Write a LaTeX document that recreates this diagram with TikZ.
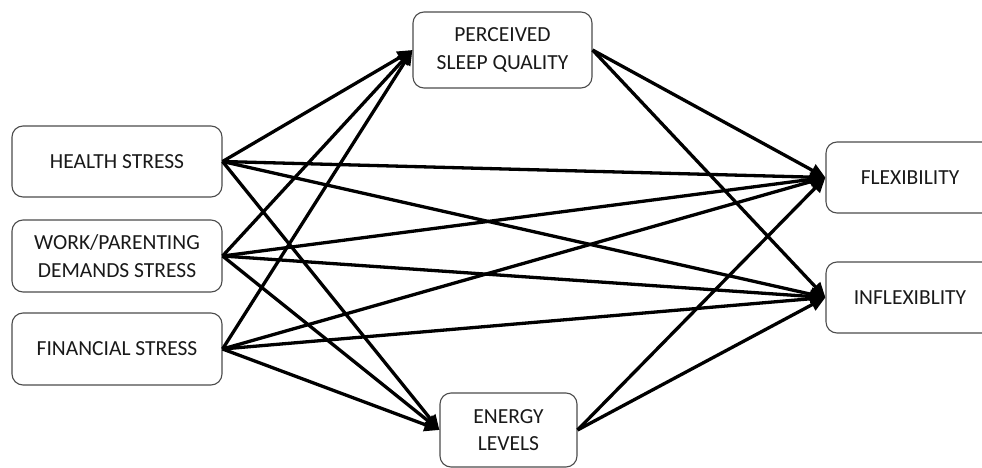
\documentclass[tikz,border=0pt]{standalone}
\usepackage{fontspec}
\setmainfont{Carlito}
\usetikzlibrary{arrows.meta}
\begin{document}
\begin{tikzpicture}[x=1pt,y=-1pt,
  box/.style={draw=black!70, line width=1.1pt, rounded corners=11pt, align=center,
    font=\fontsize{21.5}{27.5}\selectfont, text=black!90, inner sep=0pt},
  arr/.style={line width=3.3pt, -{Triangle[length=15pt,width=13pt]}}]
\useasboundingbox (0,0) rectangle (982,468);
\begin{scope}
\clip (0,0) rectangle (982,468);
\node[box, minimum width=210pt, minimum height=71pt] (health) at (117,161.5) {HEALTH STRESS};
\node[box, minimum width=210pt, minimum height=72pt] (work) at (117,256) {WORK/PARENTING\\DEMANDS STRESS};
\node[box, minimum width=210pt, minimum height=72pt] (fin) at (117,349) {FINANCIAL STRESS};
\node[box, minimum width=179pt, minimum height=76pt] (sleep) at (502.5,50) {PERCEIVED\\SLEEP QUALITY};
\node[box, minimum width=137pt, minimum height=74pt] (energy) at (508.5,430) {ENERGY\\LEVELS};
\node[box, minimum width=168pt, minimum height=71pt] (flex) at (910,177.5) {FLEXIBILITY};
\node[box, minimum width=168pt, minimum height=71pt] (inflex) at (910,297.5) {INFLEXIBLITY};
\foreach \s in {health,work,fin}{
  \foreach \t in {sleep,energy,flex,inflex}{
    \draw[arr] (\s.east) -- (\t.west);
  }
}
\foreach \s in {sleep,energy}{
  \foreach \t in {flex,inflex}{
    \draw[arr] (\s.east) -- (\t.west);
  }
}
\end{scope}
\end{tikzpicture}
\end{document}
